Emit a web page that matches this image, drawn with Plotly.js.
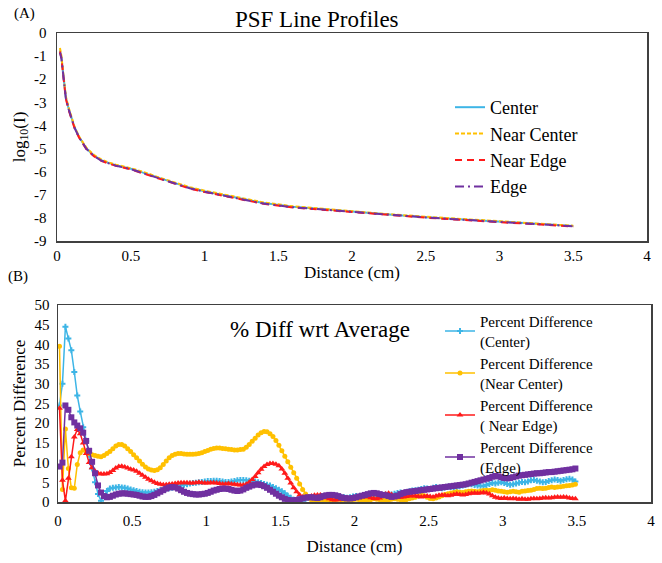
<!DOCTYPE html>
<html>
<head>
<meta charset="utf-8">
<script src="https://cdn.plot.ly/plotly-3.0.1.min.js"></script>
<style>html,body{margin:0;padding:0;background:#fff;}#chart{width:662px;height:563px;}</style>
</head>
<body>
<div id="chart"></div>
<script>
// ---------- Panel A: PSF line profiles ----------
const PSF_X = [0.02,0.03,0.04,0.05,0.06,0.08,0.10,0.12,0.15,0.20,0.25,0.30,0.35,0.40,0.50,0.60,0.70,0.80,0.90,1.00,1.20,1.40,1.60,1.80,2.00,2.25,2.50,2.75,3.00,3.25,3.50];
const CENTER_LOG = [-0.75,-1.05,-1.65,-2.3,-2.8,-3.3,-3.7,-4.1,-4.5,-5.0,-5.3,-5.5,-5.62,-5.72,-5.87,-6.07,-6.3,-6.5,-6.7,-6.85,-7.12,-7.36,-7.52,-7.63,-7.73,-7.85,-7.97,-8.07,-8.17,-8.27,-8.35];
const NEAR_CENTER_LOG = [-0.65,-1.0,-1.6,-2.25,-2.75,-3.25,-3.68,-4.08,-4.48,-4.97,-5.27,-5.47,-5.6,-5.7,-5.85,-6.04,-6.27,-6.47,-6.67,-6.82,-7.09,-7.33,-7.5,-7.61,-7.71,-7.84,-7.95,-8.05,-8.15,-8.26,-8.34];
const NEAR_EDGE_LOG = [-0.8,-1.1,-1.7,-2.35,-2.85,-3.35,-3.74,-4.14,-4.53,-5.03,-5.33,-5.53,-5.65,-5.75,-5.9,-6.1,-6.33,-6.53,-6.73,-6.88,-7.15,-7.39,-7.55,-7.65,-7.75,-7.87,-7.99,-8.09,-8.19,-8.29,-8.37];
const EDGE_LOG = [-0.85,-1.1,-1.68,-2.33,-2.83,-3.32,-3.72,-4.12,-4.52,-5.02,-5.32,-5.52,-5.64,-5.74,-5.89,-6.09,-6.32,-6.52,-6.72,-6.87,-7.14,-7.38,-7.54,-7.64,-7.74,-7.86,-7.98,-8.08,-8.18,-8.28,-8.36];
const PSF_NAMES = ["Center","Near Center","Near Edge","Edge"];

// ---------- Panel B: % difference wrt average (samples start at DIST_START, every DIST_STEP cm) ----------
const DIST_START = 0.01;
const DIST_STEP = 0.02;
const CENTER_PCT = [
24.5,30,44.5,41.5,38.5,33,27,23,19,15.5,
12,8.5,5,2,0.3,1.5,2.8,3.4,3.6,3.7,
3.8,3.7,3.6,3.4,3.2,3.0,2.8,2.6,2.5,2.4,
2.4,2.5,2.6,2.8,3.0,3.2,3.4,3.5,3.6,3.8,
4.0,4.2,4.4,4.5,4.7,4.8,4.9,5.0,5.1,5.2,
5.3,5.3,5.4,5.4,5.3,5.2,5.1,5.1,5.2,5.3,
5.5,5.6,5.6,5.5,5.4,5.3,5.2,5.0,4.8,4.6,
4.4,4.2,3.8,3.5,3.1,2.7,2.2,1.6,1.1,0.6,
0.2,0.1,0.4,0.8,1.0,1.1,1.0,0.9,1.0,1.1,
1.2,1.1,1.0,1.1,1.2,1.3,1.2,1.1,1.2,1.4,
1.5,1.4,1.3,1.4,1.6,1.7,1.6,1.5,1.6,1.8,
1.9,1.8,1.9,2.1,2.3,2.4,2.3,2.5,2.7,2.9,
3.0,3.1,3.3,3.5,3.4,3.3,3.6,3.8,3.6,3.5,
3.7,3.9,3.8,3.6,3.7,4.0,4.2,4.4,4.6,4.5,
4.3,4.2,4.1,4.0,4.3,4.6,4.8,4.7,4.9,5.0,
4.8,4.6,4.4,4.5,4.7,4.9,5.1,5.0,5.2,5.5,
5.6,5.4,5.2,5.0,5.1,5.3,5.5,5.7,5.6,5.4,
5.6,5.8,5.9,5.7,5.2];
const NEAR_CENTER_PCT = [
39.5,3.2,18.5,8.5,3.6,3.5,9.5,12.5,13.2,12.8,
12.3,12.0,11.8,11.6,11.5,11.8,12.3,12.8,13.5,14.2,
14.6,14.6,14.2,13.5,12.8,12.0,11.2,10.4,9.6,8.9,
8.4,8.1,8.0,8.2,8.7,9.5,10.4,11.2,11.8,12.1,
12.3,12.3,12.2,12.1,12.1,12.1,12.2,12.3,12.5,12.8,
13.1,13.4,13.6,13.7,13.7,13.6,13.5,13.4,13.3,13.2,
13.2,13.3,13.4,13.9,14.6,15.4,16.2,17.0,17.6,17.9,
17.8,17.3,16.6,15.6,14.4,13.0,11.6,10.2,8.8,7.4,
6.0,4.6,3.2,2.0,1.0,0.5,0.4,0.5,0.6,0.5,
0.4,0.3,0.4,0.6,0.7,0.6,0.5,0.4,0.5,0.6,
0.7,0.6,0.5,0.4,0.5,0.6,0.8,0.7,0.6,0.5,
0.4,0.5,0.7,0.8,0.7,0.6,0.5,0.6,0.8,1.0,
1.2,1.5,1.8,1.6,1.2,0.9,0.8,1.0,1.3,1.6,
1.9,2.1,2.3,2.4,2.6,2.5,2.4,2.6,2.7,2.8,
2.7,2.6,2.8,2.9,3.0,2.9,3.1,3.0,2.8,2.7,
2.6,2.5,2.6,2.7,2.6,2.5,2.7,2.8,2.9,3.0,
3.2,3.4,3.5,3.4,3.5,3.7,3.8,3.7,3.8,3.9,
4.0,4.1,4.2,4.3,4.5];
const NEAR_EDGE_PCT = [
23.8,5.5,0.3,6.0,11.5,16.5,18.4,17.3,15.0,12.3,
10.0,8.7,7.8,7.3,7.1,7.1,7.2,7.5,8.0,8.6,
9.0,9.1,8.9,8.6,8.3,8.1,7.8,7.3,6.8,6.3,
5.8,5.4,5.0,4.7,4.5,4.4,4.4,4.5,4.6,4.7,
4.8,4.9,4.9,4.9,4.8,4.8,4.9,5.0,4.9,4.8,
4.8,4.9,4.9,4.8,4.7,4.6,4.6,4.7,4.6,4.5,
4.4,4.3,4.3,4.5,5.0,5.7,6.5,7.4,8.3,9.0,
9.5,9.8,9.8,9.6,9.2,8.4,7.3,6.0,4.8,3.6,
2.6,1.8,1.3,1.2,1.3,1.5,1.7,1.8,1.8,1.5,
1.1,0.8,0.6,0.5,0.6,0.8,0.9,1.0,0.9,0.8,
0.9,1.1,1.3,1.4,1.3,1.1,0.9,0.8,1.0,1.5,
2.0,2.2,1.9,1.5,1.3,1.2,1.3,1.4,1.5,1.6,
1.5,1.4,1.3,1.4,1.5,1.4,1.3,1.5,1.7,1.8,
1.7,1.6,1.7,1.9,2.0,1.9,1.8,1.9,2.1,2.2,
2.3,2.2,2.3,2.4,2.3,2.0,1.6,1.2,1.0,0.9,
1.0,0.9,0.8,0.9,0.8,0.7,0.8,0.7,0.7,0.8,
0.9,0.8,0.9,1.0,1.1,1.0,1.1,1.2,1.3,1.2,
1.3,1.2,1.0,0.9,0.8];
const EDGE_PCT = [
9.0,10.0,24.5,23.4,21.5,20.2,19.4,18.7,17.6,15.5,
13.0,10.2,7.3,4.2,2.4,1.5,1.2,1.3,1.6,1.9,
2.1,2.2,2.2,2.1,2.0,1.9,1.8,1.6,1.4,1.3,
1.3,1.5,1.8,2.2,2.6,3.0,3.4,3.7,3.8,3.7,
3.4,3.0,2.6,2.3,2.1,2.0,1.9,1.9,2.0,2.1,
2.3,2.6,2.9,3.1,3.3,3.4,3.4,3.3,3.1,2.9,
2.8,2.9,3.2,3.6,3.9,4.2,4.4,4.5,4.3,4.0,
3.6,3.1,2.6,2.1,1.6,1.2,0.8,0.5,0.4,0.4,
0.5,0.7,0.9,1.1,1.2,1.2,1.1,1.0,1.2,1.5,
1.7,1.8,1.8,1.7,1.5,1.2,1.0,0.9,0.9,1.0,
1.2,1.4,1.6,1.8,2.0,2.2,2.3,2.2,2.0,1.8,
1.7,1.5,1.3,1.4,1.6,2.0,2.3,2.5,2.6,2.7,
2.8,2.9,3.0,3.1,3.2,3.3,3.4,3.5,3.6,3.7,
3.8,3.9,4.0,4.1,4.2,4.3,4.4,4.5,4.7,4.9,
5.1,5.3,5.5,5.7,5.9,6.1,6.4,6.6,6.5,6.3,
6.1,6.0,6.1,6.3,6.5,6.7,6.8,6.9,7.0,7.1,
7.2,7.3,7.3,7.4,7.5,7.6,7.6,7.7,7.8,7.9,
8.0,8.1,8.2,8.3,8.5];
const PCT_NAMES = ["Percent Difference<br>(Center)","Percent Difference<br>(Near Center)","Percent Difference<br>( Near Edge)","Percent Difference<br>(Edge)"];

// ---------- Tick labels ----------
const X_TICKS = [0,0.5,1,1.5,2,2.5,3,3.5,4];
const X_TICK_TEXT = ["0","0.5","1","1.5","2","2.5","3","3.5","4"];
const LOG_TICKS = [0,-1,-2,-3,-4,-5,-6,-7,-8,-9];
const LOG_TICK_TEXT = ["0","-1","-2","-3","-4","-5","-6","-7","-8","-9"];
const PCT_TICKS = [0,5,10,15,20,25,30,35,40,45,50];
const PCT_TICK_TEXT = ["0","5","10","15","20","25","30","35","40","45","50"];

const FONT = "Liberation Serif, Times New Roman, serif";
const COLORS = ["#3DB5E6","#FFC000","#FF1A1A","#7030A0"];
const DASHES = ["solid","4px,2px","7px,5px","9px,4px,2px,4px"];
const SYMBOLS = ["cross","circle","triangle-up","square"];
const MSIZES = [5,5,6,6];

const W = 662, H = 563;
const px = v => v / W;
const py = v => 1 - v / H;

const traces = [];
const logSeries = [CENTER_LOG, NEAR_CENTER_LOG, NEAR_EDGE_LOG, EDGE_LOG];
logSeries.forEach((ys, i) => {
  traces.push({
    type: "scatter", mode: "lines", x: PSF_X, y: ys, name: PSF_NAMES[i],
    xaxis: "x", yaxis: "y", legend: "legend",
    line: {color: COLORS[i], width: 2, dash: DASHES[i]}
  });
});
const pctSeries = [CENTER_PCT, NEAR_CENTER_PCT, NEAR_EDGE_PCT, EDGE_PCT];
pctSeries.forEach((ys, i) => {
  traces.push({
    type: "scatter", mode: "lines+markers", x0: DIST_START, dx: DIST_STEP, y: ys, name: PCT_NAMES[i],
    xaxis: "x2", yaxis: "y2", legend: "legend2",
    line: {color: COLORS[i], width: 1.5},
    marker: {color: COLORS[i], symbol: SYMBOLS[i], size: MSIZES[i]}
  });
});

const axisCommon = {
  showline: true, mirror: true, linecolor: "#404040", linewidth: 1.5,
  showgrid: false, zeroline: false, ticks: "",
  tickfont: {family: FONT, size: 15, color: "#000"}
};

const layout = {
  width: W, height: H,
  margin: {l: 0, r: 0, t: 0, b: 0},
  paper_bgcolor: "#fff", plot_bgcolor: "#fff",
  font: {family: FONT, color: "#000"},
  showlegend: true,
  xaxis: Object.assign({}, axisCommon, {
    domain: [px(57), px(647)], anchor: "y", range: [0, 4],
    tickvals: X_TICKS, ticktext: X_TICK_TEXT,
    title: {text: "Distance (cm)", font: {family: FONT, size: 17, color: "#000"}, standoff: 3}
  }),
  yaxis: Object.assign({}, axisCommon, {
    domain: [py(241), py(33)], anchor: "x", range: [-9, 0],
    tickvals: LOG_TICKS, ticktext: LOG_TICK_TEXT, ticklabelstandoff: 6,
    title: {text: "log<sub>10</sub>(I)", font: {family: FONT, size: 17, color: "#000"}, standoff: 4}
  }),
  xaxis2: Object.assign({}, axisCommon, {
    domain: [px(58), px(651)], anchor: "y2", range: [0, 4],
    tickvals: X_TICKS, ticktext: X_TICK_TEXT, ticklabelstandoff: 4,
    title: {text: "Distance (cm)", font: {family: FONT, size: 17, color: "#000"}, standoff: 12}
  }),
  yaxis2: Object.assign({}, axisCommon, {
    domain: [py(502), py(305)], anchor: "x2", range: [0, 50],
    tickvals: PCT_TICKS, ticktext: PCT_TICK_TEXT, ticklabelstandoff: 4,
    title: {text: "Percent Difference", font: {family: FONT, size: 17, color: "#000"}, standoff: 4}
  }),
  legend: {
    x: px(450), y: py(89), xanchor: "left", yanchor: "top",
    bgcolor: "rgba(0,0,0,0)", borderwidth: 0,
    font: {family: FONT, size: 18, color: "#000"},
    tracegroupgap: 0
  },
  legend2: {
    x: px(440), y: py(305), xanchor: "left", yanchor: "top",
    bgcolor: "rgba(0,0,0,0)", borderwidth: 0,
    font: {family: FONT, size: 15, color: "#000"},
    tracegroupgap: 0
  },
  annotations: [
    {text: "PSF Line Profiles", xref: "paper", yref: "paper", x: px(317), y: py(20), xanchor: "center", yanchor: "middle", showarrow: false, font: {family: FONT, size: 23, color: "#000"}},
    {text: "% Diff wrt Average", xref: "paper", yref: "paper", x: px(320), y: py(329), xanchor: "center", yanchor: "middle", showarrow: false, font: {family: FONT, size: 23, color: "#000"}},
    {text: "(A)", xref: "paper", yref: "paper", x: px(12), y: py(14), xanchor: "left", yanchor: "middle", showarrow: false, font: {family: FONT, size: 15, color: "#000"}},
    {text: "(B)", xref: "paper", yref: "paper", x: px(6), y: py(276), xanchor: "left", yanchor: "middle", showarrow: false, font: {family: FONT, size: 15, color: "#000"}}
  ]
};

Plotly.newPlot("chart", traces, layout, {displayModeBar: false, staticPlot: true});
</script>
</body>
</html>
